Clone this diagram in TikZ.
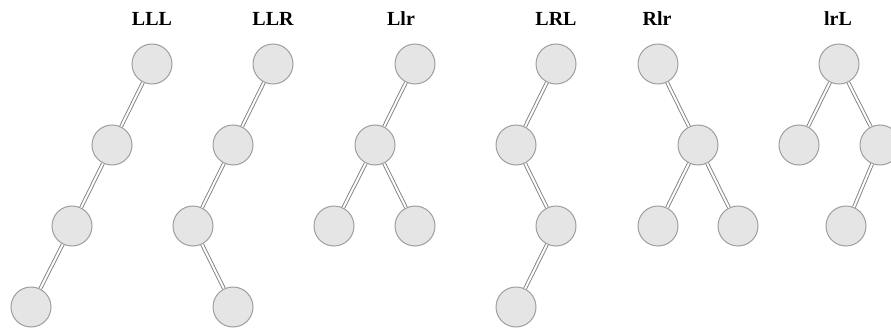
\documentclass[tikz,border=0pt]{standalone}
\usepackage{fontspec}
\setmainfont{Liberation Serif}
\begin{document}
\begin{tikzpicture}[x=1pt,y=-1pt,
  nd/.style={circle,draw=black!38,fill=black!10,line width=1pt,minimum size=40pt,inner sep=0pt},
  ed/.style={draw=black!50,double=white,double distance=2pt,line width=0.9pt},
  lbl/.style={font=\bfseries\fontsize{20}{22}\selectfont,text=black}]
\useasboundingbox (0,0) rectangle (891,329);
\begin{scope}
\clip (0,0) rectangle (891,329);
% LLL
\node[lbl] (t1) at (152,19) {LLL};
\node[nd] (a1) at (152,64) {};
\node[nd] (a2) at (112,145) {};
\node[nd] (a3) at (72,226) {};
\node[nd] (a4) at (31,307) {};
\draw[ed] (a1) -- (a2); \draw[ed] (a2) -- (a3); \draw[ed] (a3) -- (a4);
% LLR
\node[lbl] (t2) at (273,19) {LLR};
\node[nd] (b1) at (273,64) {};
\node[nd] (b2) at (233,145) {};
\node[nd] (b3) at (193,226) {};
\node[nd] (b4) at (233,307) {};
\draw[ed] (b1) -- (b2); \draw[ed] (b2) -- (b3); \draw[ed] (b3) -- (b4);
% Llr
\node[lbl] (t3) at (401,19) {Llr};
\node[nd] (c1) at (415,64) {};
\node[nd] (c2) at (375,145) {};
\node[nd] (c3) at (334,226) {};
\node[nd] (c4) at (415,226) {};
\draw[ed] (c1) -- (c2); \draw[ed] (c2) -- (c3); \draw[ed] (c2) -- (c4);
% LRL
\node[lbl] (t4) at (556,19) {LRL};
\node[nd] (d1) at (556,64) {};
\node[nd] (d2) at (516,145) {};
\node[nd] (d3) at (556,226) {};
\node[nd] (d4) at (516,307) {};
\draw[ed] (d1) -- (d2); \draw[ed] (d2) -- (d3); \draw[ed] (d3) -- (d4);
% Rlr
\node[lbl] (t5) at (657,19) {Rlr};
\node[nd] (e1) at (658,64) {};
\node[nd] (e2) at (698,145) {};
\node[nd] (e3) at (658,226) {};
\node[nd] (e4) at (738,226) {};
\draw[ed] (e1) -- (e2); \draw[ed] (e2) -- (e3); \draw[ed] (e2) -- (e4);
% lrL
\node[lbl] (t6) at (838,19) {lrL};
\node[nd] (f1) at (839,64) {};
\node[nd] (f2) at (799,145) {};
\node[nd] (f3) at (880,145) {};
\node[nd] (f4) at (846,226) {};
\draw[ed] (f1) -- (f2); \draw[ed] (f1) -- (f3); \draw[ed] (f3) -- (f4);
\end{scope}
\end{tikzpicture}
\end{document}
